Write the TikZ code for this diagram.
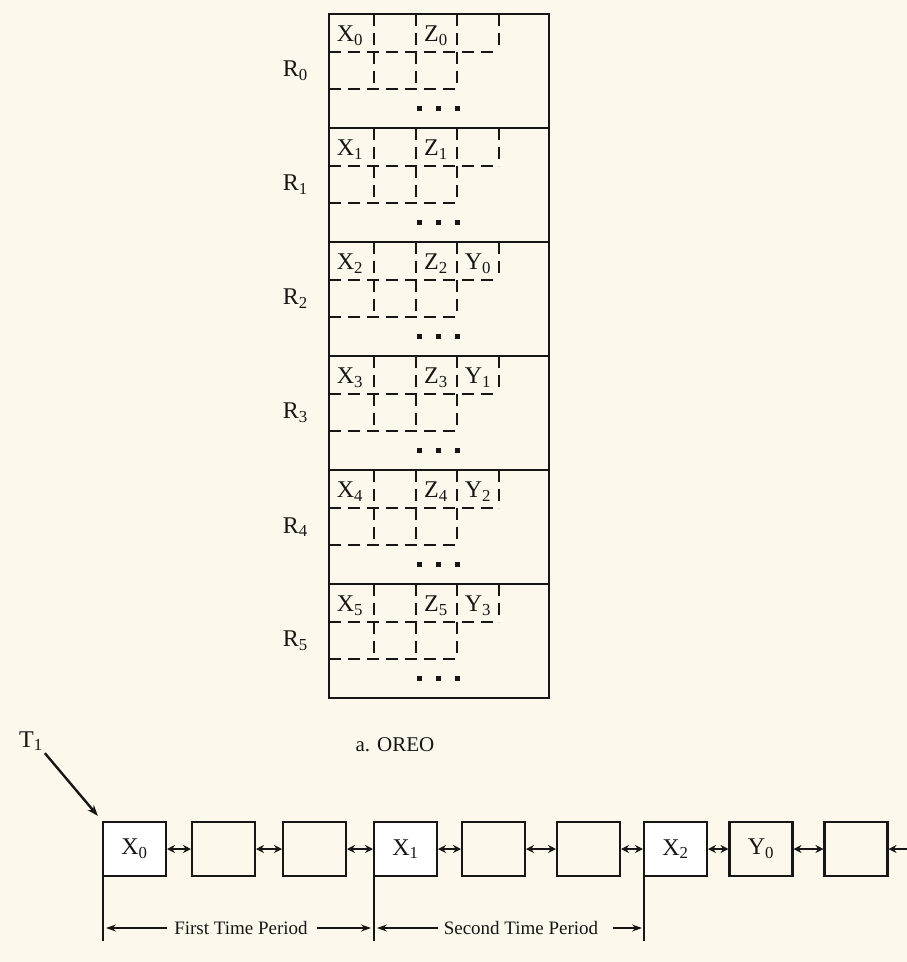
\documentclass[tikz,border=0pt]{standalone}
\usepackage{fontspec}
\setmainfont{Liberation Serif}
\usepackage{xcolor}
\usepackage{tikz}
\usetikzlibrary{arrows.meta, positioning, calc}
\definecolor{paper}{HTML}{FDF8EC}
\definecolor{ink}{HTML}{161616}

\begin{document}
\begin{tikzpicture}[x=1pt, y=-1pt,
  rowbox/.style={draw=ink, line width=2.4pt, minimum width=220pt, minimum height=114pt, inner sep=0pt, outer sep=0pt},
  cell/.style={draw=ink, line width=2pt, dash pattern=on 12pt off 7pt},
  dot/.style={fill=ink, minimum size=5pt, inner sep=0pt},
  lbl/.style={font=\fontsize{24}{27}\selectfont, text=ink, inner sep=0pt},
  slot/.style={draw=ink, line width=2.4pt, minimum width=63pt, minimum height=54pt, inner sep=0pt, outer sep=0pt, font=\fontsize{24}{27}\selectfont, text=ink},
  head/.style={slot, fill=white},
  link/.style={{Stealth[length=8pt,width=8pt]}-{Stealth[length=8pt,width=8pt]}, line width=2.2pt, draw=ink, shorten <=1pt, shorten >=1pt},
  span/.style={-{Stealth[length=10pt,width=7pt]}, line width=1.8pt, draw=ink},
  pointer/.style={-{Stealth[length=11pt,width=8pt]}, line width=2.4pt, draw=ink},
  period/.style={font=\fontsize{19}{22}\selectfont, text=ink, inner sep=0pt}
]

  \fill[paper] (0,0) rectangle (907,962);
  \useasboundingbox (0,0) rectangle (907,962);

  % Stacked rows R0..R5
  \foreach \i in {0,...,5} {
    \node[rowbox] (row\i) at (439,{71+114*\i}) {};
    \node[lbl, left=21pt of row\i] (r\i) {R\textsubscript{\i}};
    \coordinate (c\i) at (row\i.north west);

    % dashed cells
    \draw[cell] ($(c\i)+(0,38)$) -- ++(170,0);
    \draw[cell] ($(c\i)+(0,75)$) -- ++(128,0);
    \draw[cell] ($(c\i)+(45,0)$) -- ++(0,75);
    \draw[cell] ($(c\i)+(87,0)$) -- ++(0,75);
    \draw[cell] ($(c\i)+(128,0)$) -- ++(0,75);
    \draw[cell] ($(c\i)+(170,0)$) -- ++(0,38);
    \foreach \d in {90,109,128}
      \node[dot] (dot\i-\d) at ($(c\i)+(\d,94)$) {};

    \node[lbl] (x\i) at ($(c\i)+(21,22)$) {X\textsubscript{\i}};
    \node[lbl] (z\i) at ($(c\i)+(107,22)$) {Z\textsubscript{\i}};
  }
  \foreach \i/\k in {2/0,3/1,4/2,5/3}
    \node[lbl] (y\k) at ($(c\i)+(149,22)$) {Y\textsubscript{\k}};

  \node[period, font=\fontsize{21}{24}\selectfont] (cap) at (395,745) {a. OREO};

  % List of slots
  \foreach \n/\x/\sty/\txt in {b0/134.5/head/X\textsubscript{0}, b1/223.5/slot/, b2/314.5/slot/,
      b3/405.5/head/X\textsubscript{1}, b4/493.5/slot/, b5/588.5/slot/,
      b6/675.5/head/X\textsubscript{2}, b7/761/slot/Y\textsubscript{0}, b8/856/slot/}
    \node[\sty] (\n) at (\x,849) {\txt};

  \foreach \a/\b in {b0/b1, b1/b2, b2/b3, b3/b4, b4/b5, b5/b6, b6/b7, b7/b8}
    \draw[link] (\a) -- (\b);
  \coordinate (more) at (925,849);
  \draw[link] (b8) -- (more);

  % Pointer T1
  \node[lbl] (t1) at (31,741) {T\textsubscript{1}};
  \draw[pointer, shorten <=3pt, shorten >=8pt] (t1.south east) -- (b0.north west);

  % Time periods
  \draw[line width=2.2pt, draw=ink] (b0.south west) -- ++(0,65) coordinate (e0);
  \draw[line width=2.2pt, draw=ink] (b3.south west) -- ++(0,65) coordinate (e1);
  \draw[line width=2.2pt, draw=ink] (b6.south west) -- ++(0,65) coordinate (e2);

  \node[period] (p1) at (241,928) {First Time Period};
  \node[period] (p2) at (521,928) {Second Time Period};
  \draw[span, shorten <=7pt, shorten >=3pt] (p1.west) -- (e0 |- p1.west);
  \draw[span, shorten <=9pt, shorten >=3pt] (p1.east) -- (e1 |- p1.east);
  \draw[span, shorten <=6pt, shorten >=3pt] (p2.west) -- (e1 |- p2.west);
  \draw[span, shorten <=15pt, shorten >=2pt] (p2.east) -- (e2 |- p2.east);

\end{tikzpicture}
\end{document}
